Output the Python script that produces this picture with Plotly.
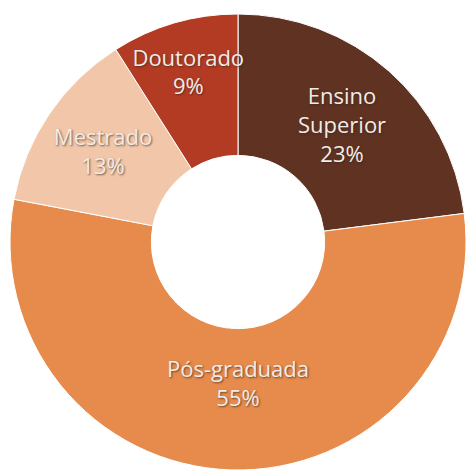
import plotly.graph_objects as go

categories = ["Ensino Superior", "Pós-graduada", "Mestrado", "Doutorado"]
display_labels = ["Ensino<br>Superior", "Pós-graduada", "Mestrado", "Doutorado"]
values = [23, 55, 13, 9]
colors = ["#5F3222", "#E68B4C", "#F2C6A8", "#B33B24"]

fig = go.Figure(
    go.Pie(
        labels=categories,
        values=values,
        text=display_labels,
        texttemplate="%{text}<br>%{percent:.0%}",
        textposition="inside",
        insidetextorientation="horizontal",
        hole=0.38,
        sort=False,
        direction="clockwise",
        rotation=0,
        marker=dict(colors=colors, line=dict(color="white", width=1)),
        textfont=dict(family="Open Sans", size=22, color="#F2ECE6",
                      shadow="1px 1px 2px rgba(60,40,30,0.7)"),
        domain=dict(x=[10 / 466, 1], y=[2 / 474, 462 / 474]),
        showlegend=False,
    )
)

fig.update_layout(
    width=466, height=474,
    margin=dict(l=0, r=0, t=0, b=0),
    paper_bgcolor="white",
    uniformtext=dict(minsize=22, mode="show"),
)

# drop the default page margin so the figure sits flush in the window
fig.write_html("out.html", config={"displayModeBar": False},
               post_script="document.body.style.margin='0';")
